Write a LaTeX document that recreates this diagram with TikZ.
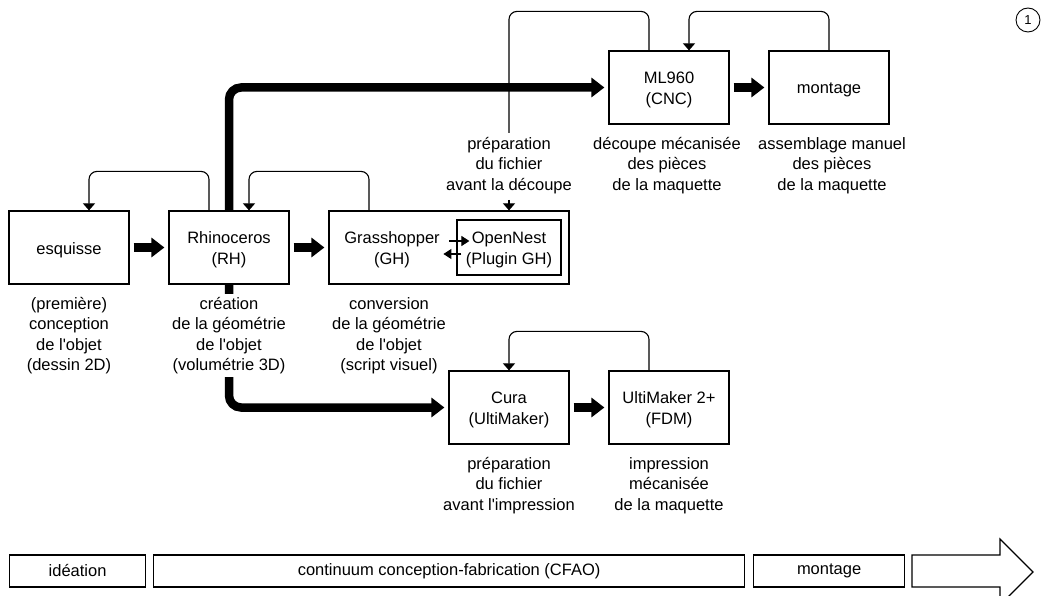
\documentclass[tikz,border=0pt]{standalone}
\usepackage{fontspec}
\setmainfont{Liberation Sans}[Ligatures=TeXOff]
\usetikzlibrary{arrows.meta,calc}
\begin{document}
\begin{tikzpicture}[x=1pt,y=-1pt,
  every node/.style={font=\fontsize{16.5}{20.5}\selectfont},
  box/.style={draw,line width=1.2pt,minimum width=120pt,minimum height=73pt,inner sep=0pt},
  boxtxt/.style={align=center,inner sep=0pt,yshift=-2.5pt,font=\fontsize{16.5}{21}\selectfont},
  inbox/.style={draw,line width=1.2pt,minimum width=104pt,minimum height=55pt,inner sep=0pt},
  lbl/.style={align=center,anchor=north,inner sep=0pt},
  big/.style={line width=8.5pt,-{Triangle[length=13pt,width=19pt]},shorten >=4pt,shorten <=4pt},
  fb/.style={line width=1.1pt,rounded corners=8pt,-{Triangle[length=7pt,width=12pt]}},
  fbl/.style={line width=1.1pt,rounded corners=8pt},
  sm/.style={line width=1.1pt,-{Triangle[length=8pt,width=10pt]}},
  bar/.style={draw,line width=1.2pt,minimum height=32pt,inner sep=0pt,anchor=west}]
\useasboundingbox (0,0) rectangle (1045,596);

% main boxes
\node[box,label={[boxtxt]center:esquisse}] (esq) at (69,247.5) {};
\node[box,label={[boxtxt]center:{Rhinoceros\\(RH)}}] (rh) at (229,247.5) {};
\node[box,minimum width=240pt] (gh) at (449,247.5) {};
\node[inbox,label={[boxtxt]center:{OpenNest\\(Plugin GH)}}] (on) at (509,247.5) {};
\node[boxtxt] (ght) at (392,247.5) {Grasshopper\\(GH)};
\node[box,label={[boxtxt]center:{ML960\\(CNC)}}] (ml) at (669,87.5) {};
\node[box,label={[boxtxt]center:montage}] (mo) at (829,87.5) {};
\node[box,label={[boxtxt]center:{Cura\\(UltiMaker)}}] (cu) at (509,407.5) {};
\node[box,label={[boxtxt]center:{UltiMaker 2+\\(FDM)}}] (um) at (669,407.5) {};

% labels
\node[lbl] (l1) at (69,297) {(première)\\conception\\de l'objet\\(dessin 2D)};
\node[lbl] (l3) at (389,297) {conversion\\de la géométrie\\de l'objet\\(script visuel)};
\node[lbl] (l4) at (509,137) {préparation\\du fichier\\avant la découpe};
\node[lbl] (l5) at (667,137) {découpe mécanisée\\des pièces\\de la maquette};
\node[lbl] (l6) at (832,137) {assemblage manuel\\des pièces\\de la maquette};
\node[lbl] (l7) at (509,457) {préparation\\du fichier\\avant l'impression};
\node[lbl] (l8) at (669,457) {impression\\mécanisée\\de la maquette};

% thick arrows
\draw[big] (esq.east) -- (rh.west);
\draw[big] (rh.east) -- (gh.west);
\draw[big] (ml.east) -- (mo.west);
\draw[big] (cu.east) -- (um.west);
\draw[big,shorten <=0pt,rounded corners=12pt] (rh.north) |- (ml.west);
\draw[big,shorten <=0pt,rounded corners=12pt] (rh.south) |- (cu.west);

% label over the thick line
\node[lbl,fill=white,inner sep=3pt] (l2) at (229,294) {création\\de la géométrie\\de l'objet\\(volumétrie 3D)};

% feedback loops
\draw[fb] ([xshift=-20pt]rh.north) -- ++(0,-39) -| ([xshift=20pt]esq.north);
\draw[fb] ([xshift=-80pt]gh.north) -- ++(0,-39) -| ([xshift=20pt]rh.north);
\draw[fbl,shorten >=4pt] ([xshift=-20pt]ml.north) -- ++(0,-39) -| (l4.north);
\draw[fb,shorten <=6pt] (l4.south) -- (l4.south |- gh.north);
\draw[fb] (mo.north) -- ++(0,-39) -| ([xshift=20pt]ml.north);
\draw[fb] ([xshift=-20pt]um.north) -- ++(0,-39) -| (cu.north);

% GH <-> OpenNest
\draw[sm] ([xshift=-7pt,yshift=6.5pt]on.west) -- ([xshift=13pt,yshift=6.5pt]on.west);
\draw[sm] ([xshift=5pt,yshift=-6.5pt]on.west) -- ([xshift=-13pt,yshift=-6.5pt]on.west);

% bottom bar
\node[bar,minimum width=136pt] (b1) at (9,571) {idéation};
\node[bar,minimum width=591pt] (b2) at (153,571) {continuum conception-fabrication (CFAO)};
\node[bar,minimum width=151pt] (b3) at (753,571) {montage};
\draw[line width=1.2pt] (912,555) -- (1000,555) -- (1000,539) -- (1033,572) -- (1000,605) -- (1000,587) -- (912,587) -- cycle;

% number
\node[draw,circle,line width=0.9pt,minimum size=24pt,inner sep=0pt,font=\fontsize{13}{14}\selectfont] (n1) at (1028,20) {1};
\end{tikzpicture}
\end{document}
